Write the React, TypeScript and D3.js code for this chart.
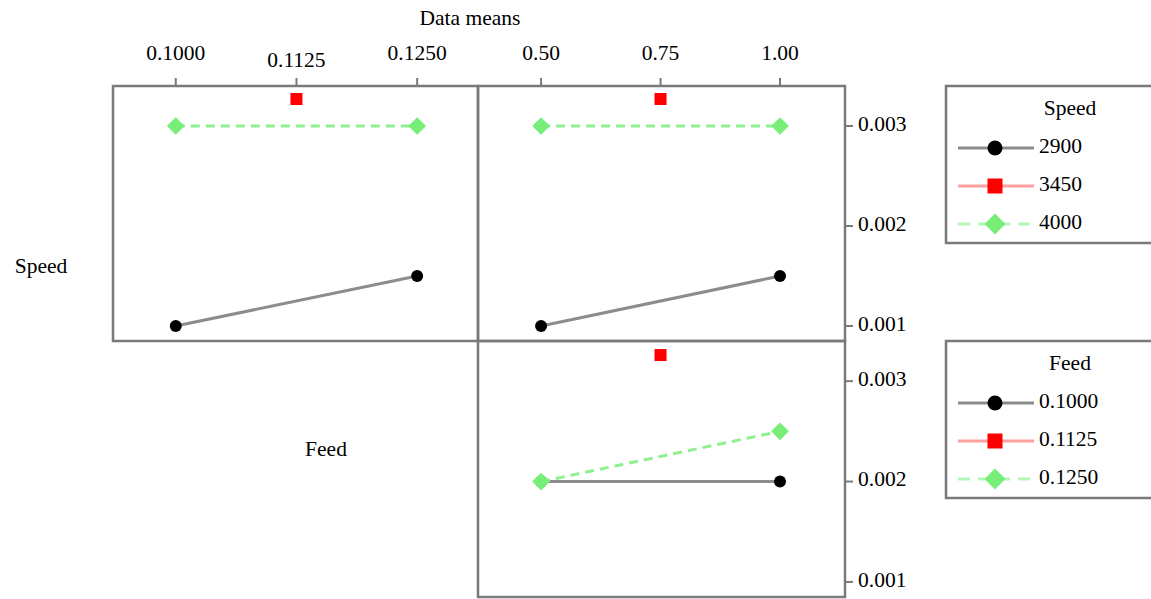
import React from "react";
import * as d3 from "d3";

const feedLevels = [0.1, 0.1125, 0.125];
const feedTickLabels = ["0.1000", "0.1125", "0.1250"];
const depthLevels = [0.5, 0.75, 1.0];
const depthTickLabels = ["0.50", "0.75", "1.00"];
const yTicks = [0.001, 0.002, 0.003];
const yTickLabels = ["0.001", "0.002", "0.003"];

const speedNames = ["2900", "3450", "4000"];
const feedNames = ["0.1000", "0.1125", "0.1250"];

// Speed x Feed means (rows: speed level, cols: feed level)
const speedByFeed2900 = [0.001, null, 0.0015];
const speedByFeed3450 = [null, 0.00327, null];
const speedByFeed4000 = [0.003, null, 0.003];
// Speed x Depth means
const speedByDepth2900 = [0.001, null, 0.0015];
const speedByDepth3450 = [null, 0.00327, null];
const speedByDepth4000 = [0.003, null, 0.003];
// Feed x Depth means
const feedByDepth1000 = [0.002, null, 0.002];
const feedByDepth1125 = [null, 0.00326, null];
const feedByDepth1250 = [0.002, null, 0.0025];

const FONT = "'Liberation Serif', 'Times New Roman', serif";
const FS = 21.5;
const frameColor = "#7a7a7a";

const styles = [
  { line: "#8c8c8c", dash: "", marker: "circle", fill: "#000000", legLine: "#8c8c8c" },
  { line: "#ff9a9a", dash: "", marker: "square", fill: "#ff0000", legLine: "#ffa0a0" },
  { line: "#8ef08e", dash: "9,6", marker: "diamond", fill: "#77ee77", legLine: "#b4f7b4" },
];

function Marker({ kind, x, y, fill, big }: { kind: string; x: number; y: number; fill: string; big?: boolean }) {
  if (kind === "circle") return <circle cx={x} cy={y} r={big ? 7.5 : 6} fill={fill} />;
  if (kind === "square") {
    const h = big ? 7.5 : 6;
    return <rect x={x - h} y={y - h} width={2 * h} height={2 * h} fill={fill} />;
  }
  const s = d3.symbol().type(d3.symbolDiamond2).size(big ? 280 : 200)();
  return <path d={s || ""} transform={`translate(${x},${y})`} fill={fill} />;
}

function Series({ xs, ys, xScale, yScale, style }: any) {
  const pts = xs
    .map((x: number, i: number) => ({ x, y: ys[i] }))
    .filter((p: any) => p.y !== null);
  const line = d3
    .line<any>()
    .x((p) => xScale(p.x))
    .y((p) => yScale(p.y));
  return (
    <g>
      {pts.length > 1 && (
        <path d={line(pts) || ""} fill="none" stroke={style.line} strokeWidth={3} strokeDasharray={style.dash} />
      )}
      {pts.map((p: any, i: number) => (
        <Marker key={i} kind={style.marker} x={xScale(p.x)} y={yScale(p.y)} fill={style.fill} />
      ))}
    </g>
  );
}

function Legend({ x, y, title, names }: { x: number; y: number; title: string; names: string[] }) {
  return (
    <g>
      <rect x={x} y={y} width={230} height={157} fill="white" stroke={frameColor} strokeWidth={2.5} />
      <text x={x + 124} y={y + 24} textAnchor="middle" dominantBaseline="middle" fontFamily={FONT} fontSize={FS}>
        {title}
      </text>
      {names.map((n, i) => {
        const yy = y + 62 + i * 38;
        const st = styles[i];
        return (
          <g key={n}>
            <line x1={x + 12} x2={x + 88} y1={yy} y2={yy} stroke={st.legLine} strokeWidth={3} strokeDasharray={st.dash ? "12,8" : ""} />
            <Marker kind={st.marker} x={x + 49} y={yy} fill={st.fill} big />
            <text x={x + 93} y={yy} dominantBaseline="middle" fontFamily={FONT} fontSize={FS}>
              {n}
            </text>
          </g>
        );
      })}
    </g>
  );
}

export default function App() {
  const L = 113, M = 478, R = 845;
  const T = 86, MID = 341, B = 597;

  const xFeed = d3.scaleLinear().domain([0.0935, 0.1313]).range([L, M]);
  const xDepth = d3.scaleLinear().domain([0.368, 1.136]).range([M, R]);
  const yTop = d3.scaleLinear().domain([0.00085, 0.0034]).range([MID, T]);
  const yBot = d3.scaleLinear().domain([0.00085, 0.0034]).range([B, MID]);

  return (
    <svg width={1151} height={599} style={{ position: "absolute", left: 0, top: 0 }}>
      <rect width={1151} height={599} fill="white" />
      <text x={470} y={20} textAnchor="middle" dominantBaseline="middle" fontFamily={FONT} fontSize={FS}>
        Data means
      </text>

      {/* top x-axis ticks */}
      {feedLevels.map((v, i) => (
        <g key={"f" + i}>
          <line x1={xFeed(v)} x2={xFeed(v)} y1={T - 8} y2={T} stroke={frameColor} strokeWidth={2} />
          <text x={xFeed(v)} y={i === 1 ? 62 : 55} textAnchor="middle" dominantBaseline="middle" fontFamily={FONT} fontSize={FS}>
            {feedTickLabels[i]}
          </text>
        </g>
      ))}
      {depthLevels.map((v, i) => (
        <g key={"d" + i}>
          <line x1={xDepth(v)} x2={xDepth(v)} y1={T - 8} y2={T} stroke={frameColor} strokeWidth={2} />
          <text x={xDepth(v)} y={55} textAnchor="middle" dominantBaseline="middle" fontFamily={FONT} fontSize={FS}>
            {depthTickLabels[i]}
          </text>
        </g>
      ))}

      {/* right y-axis ticks */}
      {yTicks.map((v, i) => (
        <g key={"yt" + i}>
          <line x1={R} x2={R + 8} y1={yTop(v)} y2={yTop(v)} stroke={frameColor} strokeWidth={2} />
          <text x={R + 13} y={yTop(v)} dominantBaseline="middle" fontFamily={FONT} fontSize={FS}>
            {yTickLabels[i]}
          </text>
          <line x1={R} x2={R + 8} y1={yBot(v)} y2={yBot(v)} stroke={frameColor} strokeWidth={2} />
          <text x={R + 13} y={yBot(v)} dominantBaseline="middle" fontFamily={FONT} fontSize={FS}>
            {yTickLabels[i]}
          </text>
        </g>
      ))}

      {/* row labels */}
      <text x={41} y={268} textAnchor="middle" dominantBaseline="middle" fontFamily={FONT} fontSize={FS}>
        Speed
      </text>
      <text x={326} y={451} textAnchor="middle" dominantBaseline="middle" fontFamily={FONT} fontSize={FS}>
        Feed
      </text>

      {/* data */}
      <Series xs={feedLevels} ys={speedByFeed2900} xScale={xFeed} yScale={yTop} style={styles[0]} />
      <Series xs={feedLevels} ys={speedByFeed3450} xScale={xFeed} yScale={yTop} style={styles[1]} />
      <Series xs={feedLevels} ys={speedByFeed4000} xScale={xFeed} yScale={yTop} style={styles[2]} />
      <Series xs={depthLevels} ys={speedByDepth2900} xScale={xDepth} yScale={yTop} style={styles[0]} />
      <Series xs={depthLevels} ys={speedByDepth3450} xScale={xDepth} yScale={yTop} style={styles[1]} />
      <Series xs={depthLevels} ys={speedByDepth4000} xScale={xDepth} yScale={yTop} style={styles[2]} />
      <Series xs={depthLevels} ys={feedByDepth1000} xScale={xDepth} yScale={yBot} style={styles[0]} />
      <Series xs={depthLevels} ys={feedByDepth1125} xScale={xDepth} yScale={yBot} style={styles[1]} />
      <Series xs={depthLevels} ys={feedByDepth1250} xScale={xDepth} yScale={yBot} style={styles[2]} />

      {/* frames */}
      <rect x={L} y={T} width={M - L} height={MID - T} fill="none" stroke={frameColor} strokeWidth={2.5} />
      <rect x={M} y={T} width={R - M} height={MID - T} fill="none" stroke={frameColor} strokeWidth={2.5} />
      <rect x={M} y={MID} width={R - M} height={B - MID} fill="none" stroke={frameColor} strokeWidth={2.5} />

      <Legend x={946} y={86} title="Speed" names={speedNames} />
      <Legend x={946} y={341} title="Feed" names={feedNames} />
    </svg>
  );
}
